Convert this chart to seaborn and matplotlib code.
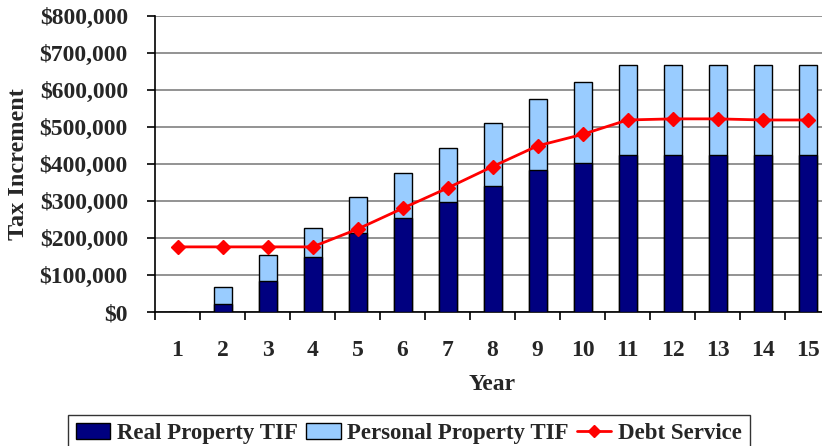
import matplotlib
matplotlib.use("Agg")
import matplotlib.pyplot as plt
import seaborn as sns
import pandas as pd
from matplotlib.patches import Patch
from matplotlib.lines import Line2D
from matplotlib.ticker import FuncFormatter, MultipleLocator, FixedLocator

years = [str(i) for i in range(1, 16)]
real_property = [0, 22000, 84000, 150000, 214000, 255000, 298000, 341000, 384000, 403000,
                 424000, 424000, 424000, 424000, 424000]
personal_property = [0, 46000, 70000, 77000, 97000, 121000, 145000, 169000, 192000, 219000,
                     243000, 243000, 243000, 243000, 243000]
debt_service = [176000, 176000, 176000, 176000, 224000, 280000, 335000, 393000, 449000, 480000,
                519000, 522000, 522000, 519000, 519000]

sns.set_style("white")
plt.rcParams["font.family"] = ["Liberation Serif", "DejaVu Serif"]
plt.rcParams["font.weight"] = "bold"

FS = 17

df = pd.DataFrame({
    "Year": years,
    "Real": real_property,
    "Total": [r + p for r, p in zip(real_property, personal_property)],
    "Debt": debt_service,
})

fig = plt.figure(figsize=(8.22, 4.46), dpi=100)
W, H = 822, 446
left, right, top, bottom = 155, 830, 16, 312
ax = fig.add_axes([left / W, (H - bottom) / H, (right - left) / W, (bottom - top) / H])

real_c = "#000080"
pers_c = "#99CCFF"

sns.barplot(data=df, x="Year", y="Total", order=years, color=pers_c, width=0.4,
            edgecolor="black", linewidth=1, saturation=1, ax=ax, zorder=2)
sns.barplot(data=df, x="Year", y="Real", order=years, color=real_c, width=0.4,
            edgecolor="black", linewidth=1, saturation=1, ax=ax, zorder=3)
ax.plot(range(len(years)), df["Debt"], color="#FF0000", lw=2, marker="D",
        markersize=7, zorder=4)

ax.set_xlim(-0.5, 14.5)
ax.set_ylim(0, 800000)
ax.yaxis.set_major_locator(MultipleLocator(100000))
ax.yaxis.set_major_formatter(FuncFormatter(lambda v, p: "${:,.0f}".format(v)))
ax.grid(axis="y", color="#808080", lw=1.2, zorder=0)
ax.set_axisbelow(True)

for s in ["top", "right"]:
    ax.spines[s].set_visible(False)
for s in ["left", "bottom"]:
    ax.spines[s].set_color("black")
    ax.spines[s].set_linewidth(1.2)

ax.tick_params(axis="y", which="major", left=True, length=5.5, width=1.2, color="black",
               pad=14, labelsize=FS)
ax.tick_params(axis="x", which="major", bottom=False, length=0, pad=20, labelsize=FS)
ax.xaxis.set_minor_locator(FixedLocator([i + 0.5 for i in range(-1, 15)]))
ax.tick_params(axis="x", which="minor", bottom=True, length=6, width=1.2, color="black",
               direction="out")
for lab in ax.get_yticklabels() + ax.get_xticklabels():
    lab.set_fontweight("bold")

ax.set_xlabel("Year", fontsize=FS, fontweight="bold")
ax.set_ylabel("Tax Increment", fontsize=FS + 0.5, fontweight="bold")
ax.xaxis.set_label_coords(0.5, (bottom - 385) / (bottom - top))
ax.xaxis.label.set_va("center")
ax.yaxis.set_label_coords((19 - left) / (right - left), 0.5)
ax.yaxis.label.set_va("center")

handles = [
    Patch(facecolor=real_c, edgecolor="black", lw=1),
    Patch(facecolor=pers_c, edgecolor="black", lw=1),
    Line2D([0], [0], color="#FF0000", lw=2, marker="D", markersize=6),
]
leg = fig.legend(handles, ["Real Property TIF", "Personal Property TIF", "Debt Service"],
                 loc="upper center", bbox_to_anchor=(409 / W, 1 - 415 / H), ncol=3,
                 frameon=True, fancybox=False, handlelength=1.5, borderaxespad=0,
                 handletextpad=0.3, columnspacing=0.35, borderpad=0.35,
                 prop={"weight": "bold", "size": 16.5})
leg.get_frame().set_edgecolor("black")
leg.get_frame().set_linewidth(1)

fig.savefig("out.png", dpi=100)
